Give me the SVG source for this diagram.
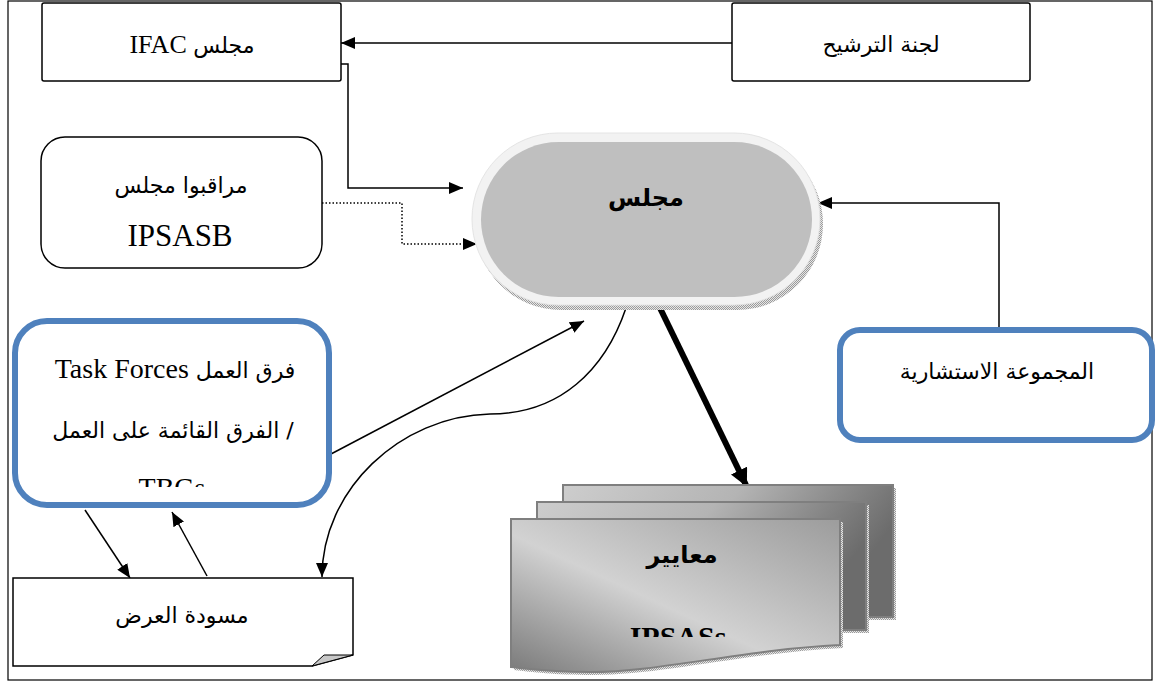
<svg xmlns="http://www.w3.org/2000/svg" width="1155" height="683" viewBox="0 0 1155 683">
<style>
.box{fill:#fff;stroke:#000;stroke-width:1.5}
.blue{fill:#fff;stroke:#4F81BD;stroke-width:6}
.lat{font-family:"Liberation Serif","DejaVu Serif",serif;fill:#000}
.ar{font-family:"DejaVu Sans","Liberation Serif",sans-serif;fill:#000}
.con{fill:none;stroke:#000;stroke-width:1.5}
</style>
<defs>
<marker id="ah" viewBox="0 0 14 12" refX="14" refY="6" markerWidth="14" markerHeight="12" markerUnits="userSpaceOnUse" orient="auto">
<path d="M0,0 L14,6 L0,12 z" fill="#000"/>
</marker>
<marker id="ahb" viewBox="0 0 18 18" refX="16" refY="9" markerWidth="18" markerHeight="18" markerUnits="userSpaceOnUse" orient="auto">
<path d="M0,0 L18,9 L0,18 z" fill="#000"/>
</marker>
<pattern id="hatch" width="2" height="2" patternUnits="userSpaceOnUse">
<rect width="2" height="2" fill="#e6e6e6"/>
<rect width="1" height="1" fill="#9a9a9a"/>
<rect x="1" y="1" width="1" height="1" fill="#9a9a9a"/>
</pattern>
<linearGradient id="gFront" x1="0" y1="1" x2="1" y2="0">
<stop offset="0" stop-color="#7a7a7a"/>
<stop offset="0.45" stop-color="#d2d2d2"/>
<stop offset="1" stop-color="#9c9c9c"/>
</linearGradient>
<linearGradient id="gBack" x1="0" y1="0" x2="1" y2="0.3">
<stop offset="0" stop-color="#cdcdcd"/>
<stop offset="0.5" stop-color="#b4b4b4"/>
<stop offset="1" stop-color="#6c6c6c"/>
</linearGradient>
<clipPath id="clipTask"><rect x="12" y="318" width="320" height="169"/></clipPath>
<clipPath id="clipStd"><rect x="511" y="519" width="329" height="118"/></clipPath>
</defs>

<rect id="frame" x="8" y="1" width="1144" height="679" fill="none" stroke="#000" stroke-width="1.2"/>

<g id="connectors">
<path class="con" d="M732,43 L341,43" marker-end="url(#ah)"/>
<path class="con" d="M341,64 L348,64 L348,188 L463,188" marker-end="url(#ah)"/>
<path class="con" d="M322,203 L402,203 L402,244 L477,244" stroke-dasharray="1.5,2" marker-end="url(#ah)"/>
<path class="con" d="M999,329 L999,203 L818,203" marker-end="url(#ah)"/>
<path class="con" d="M331,454 L584,321" marker-end="url(#ah)"/>
<path class="con" d="M626,308 C605,370 560,414 490,414 C400,416 322,490 322,577" marker-end="url(#ah)"/>
<path class="con" d="M85,510 L130,578" marker-end="url(#ah)"/>
<path class="con" d="M207,576 L172,512" marker-end="url(#ah)"/>
<path fill="none" stroke="#000" stroke-width="6" d="M660,308 L746,485" marker-end="url(#ahb)"/>
</g>

<g id="ifac">
<rect class="box" x="42" y="3" width="299" height="78" rx="2"/>
<text class="lat" x="192" y="53" font-size="26" text-anchor="middle" direction="rtl"><tspan class="ar" font-size="22">مجلس</tspan> IFAC</text>
</g>

<g id="nomination">
<rect class="box" x="732" y="3" width="298" height="78" rx="2"/>
<text class="ar" x="881" y="52" font-size="22" text-anchor="middle" direction="rtl">لجنة الترشيح</text>
</g>

<g id="observers">
<rect class="box" x="41" y="137" width="281" height="131" rx="24"/>
<text class="ar" x="181" y="193" font-size="22" text-anchor="middle" direction="rtl">مراقبوا مجلس</text>
<text class="lat" x="180" y="246" font-size="31" text-anchor="middle">IPSASB</text>
</g>

<g id="council">
<rect x="475" y="138" width="348" height="172" rx="86" fill="url(#hatch)"/>
<rect x="472" y="133" width="348" height="172" rx="86" fill="#f2f2f2" stroke="#e4e4e4" stroke-width="1"/>
<rect x="481" y="142" width="331" height="155" rx="77.5" fill="#bfbfbf"/>
<text class="ar" x="646" y="206" font-size="24" font-weight="bold" text-anchor="middle" direction="rtl">مجلس</text>
</g>

<g id="advisory">
<rect class="blue" x="840" y="330" width="312" height="110" rx="20"/>
<text class="ar" x="997" y="379" font-size="22" text-anchor="middle" direction="rtl">المجموعة الاستشارية</text>
</g>

<g id="taskforces">
<rect class="blue" x="15" y="321" width="314" height="184" rx="32"/>
<g clip-path="url(#clipTask)">
<text class="lat" x="175" y="378" font-size="28" text-anchor="middle" direction="rtl"><tspan class="ar" font-size="22">فرق العمل</tspan> Task Forces</text>
<text class="ar" x="173" y="438" font-size="22" text-anchor="middle" direction="rtl">/ الفرق القائمة على العمل</text>
<text class="lat" x="172" y="497" font-size="28" text-anchor="middle">TBGs</text>
</g>
</g>

<g id="draft">
<path class="box" d="M13,578 L353,578 L353,655 L312,666 L13,666 Z"/>
<path d="M312,666 L324,655 L353,655 Z" fill="#c8c8c8" stroke="#000" stroke-width="1"/>
<text class="ar" x="182" y="623" font-size="22" text-anchor="middle" direction="rtl">مسودة العرض</text>
</g>

<g id="standards">
<rect x="566" y="488" width="330" height="132" fill="url(#hatch)"/>
<rect x="563" y="485" width="330" height="132" fill="url(#gBack)" stroke="#7f7f7f" stroke-width="2"/>
<rect x="540" y="505" width="329" height="128" fill="url(#hatch)"/>
<rect x="537" y="502" width="329" height="128" fill="url(#gBack)" stroke="#7f7f7f" stroke-width="2"/>
<path d="M514,522 L843,522 L843,648 C743,653 663,675 593,675 C553,675 533,672 514,670 Z" fill="url(#hatch)"/>
<path d="M511,519 L840,519 L840,645 C740,650 660,672 590,672 C550,672 530,669 511,667 Z" fill="url(#gFront)" stroke="#7f7f7f" stroke-width="2"/>
<text class="ar" x="682" y="563" font-size="24" font-weight="bold" text-anchor="middle" direction="rtl">معايير</text>
<g clip-path="url(#clipStd)">
<text class="lat" x="678" y="647" font-size="30" font-weight="bold" text-anchor="middle">IPSASs</text>
</g>
</g>
</svg>
